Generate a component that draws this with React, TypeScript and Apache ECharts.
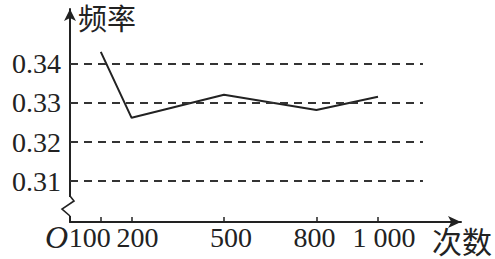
import React, { useEffect, useRef } from "react";
import * as echarts from "echarts";

const trials = [100, 200, 500, 800, 1000];
const frequency = [0.3431, 0.3262, 0.3321, 0.3282, 0.3316];
const yTicks = [0.31, 0.32, 0.33, 0.34];
const xTicks = [100, 200, 500, 800, 1000];
const xLabelText = ["100", "200", "500", "800", "1 000"];
const yAxisTitle = "频率";
const xAxisTitle = "次数";
const dashEnd = 1146;

export default function App() {
  const ref = useRef<HTMLDivElement>(null);
  useEffect(() => {
    if (!ref.current) return;
    const chart = echarts.init(ref.current, null, { renderer: "svg" });
    const ink = "#222";
    const numFont = "'Liberation Serif', 'Times New Roman', serif";
    const cjkFont = "'Noto Sans CJK SC', sans-serif";
    const labelStyle = { fontFamily: numFont, fontSize: 28, color: ink };
    chart.setOption({
      animation: false,
      backgroundColor: "#fff",
      grid: { left: 70, right: 34, top: 9, bottom: 37 },
      xAxis: {
        type: "value",
        min: 0,
        max: 1269.5,
        axisLine: {
          show: true,
          symbol: ["none", "arrow"],
          symbolSize: [9, 13],
          lineStyle: { color: ink, width: 2 },
        },
        axisTick: {
          show: true,
          inside: true,
          length: 5,
          customValues: xTicks,
          lineStyle: { color: ink, width: 1.5 },
        },
        axisLabel: {
          show: true,
          showMinLabel: true,
          showMaxLabel: true,
          customValues: xTicks,
          margin: 1,
          ...labelStyle,
          formatter: (v: number) => {
            const i = xTicks.indexOf(v);
            if (i < 0) return "";
            const key = ["a", "b", "c", "d", "e"][i];
            return "{" + key + "|" + xLabelText[i] + "}";
          },
          rich: {
            a: { ...labelStyle, padding: [0, 22, 0, 0] },
            b: { ...labelStyle, padding: [0, 0, 0, 12] },
            c: { ...labelStyle, padding: [0, 0, 0, 14] },
            d: { ...labelStyle, padding: [0, 4, 0, 0] },
            e: { ...labelStyle, padding: [0, 0, 0, 12] },
          },
        },
        splitLine: { show: false },
      },
      yAxis: {
        type: "value",
        min: 0.29949,
        max: 0.3541,
        axisLine: {
          show: true,
          symbol: ["none", "arrow"],
          symbolSize: [9, 12],
          lineStyle: { color: ink, width: 2 },
        },
        axisTick: { show: false },
        axisLabel: {
          show: true,
          showMinLabel: true,
          showMaxLabel: true,
          customValues: yTicks,
          margin: 9,
          ...labelStyle,
          formatter: (v: number) => v.toFixed(2),
        },
        splitLine: { show: false },
      },
      series: [
        {
          type: "line",
          data: trials.map((t, i) => [t, frequency[i]]),
          symbol: "none",
          lineStyle: { color: ink, width: 2 },
          markLine: {
            silent: true,
            symbol: "none",
            label: { show: false },
            lineStyle: { color: "#333", width: 2, type: [8, 6] },
            data: yTicks.map((v) => [
              { coord: [0, v] },
              { coord: [dashEnd, v] },
            ]),
          },
        },
      ],
      graphic: [
        {
          type: "rect",
          shape: { x: 66, y: 197, width: 8, height: 19 },
          style: { fill: "#fff" },
          z: 100,
        },
        {
          type: "polyline",
          shape: {
            points: [
              [70, 196],
              [74, 201],
              [62, 209],
              [70, 216],
            ],
          },
          style: { stroke: ink, lineWidth: 1.6, fill: "none" },
          z: 101,
        },
        {
          type: "text",
          x: 45,
          y: 221,
          style: {
            text: "O",
            fontFamily: numFont,
            fontStyle: "italic",
            fontSize: 32,
            fill: ink,
          },
          z: 101,
        },
        {
          type: "text",
          x: 78,
          y: 17,
          style: {
            text: yAxisTitle,
            fontFamily: cjkFont,
            fontSize: 29,
            fill: ink,
            align: "left",
            verticalAlign: "middle",
          },
          z: 101,
        },
        {
          type: "text",
          x: 432,
          y: 225,
          style: {
            text: xAxisTitle,
            fontFamily: cjkFont,
            fontSize: 30,
            fill: ink,
            align: "left",
            verticalAlign: "top",
          },
          z: 101,
        },
      ],
    });
    return () => chart.dispose();
  }, []);
  return (
    <div
      ref={ref}
      style={{ position: "fixed", left: 0, top: 0, width: 495, height: 259 }}
    />
  );
}
